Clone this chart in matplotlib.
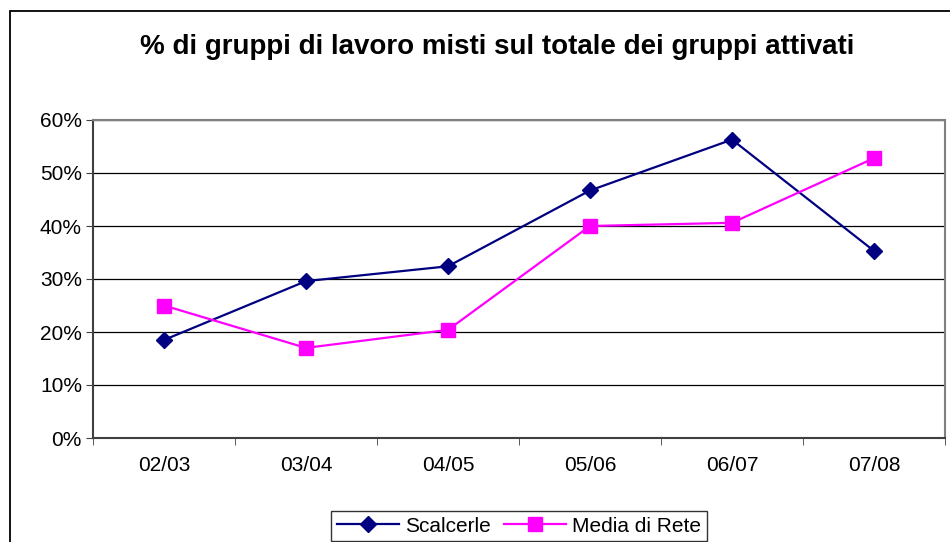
import matplotlib
matplotlib.use("Agg")
import matplotlib.pyplot as plt
from matplotlib.patches import Rectangle
from matplotlib.ticker import PercentFormatter, FixedLocator

plt.rcParams['font.family'] = ['Liberation Sans', 'DejaVu Sans']

# data
years = ['02/03', '03/04', '04/05', '05/06', '06/07', '07/08']
scalcerle = [18.5, 29.6, 32.4, 46.7, 56.3, 35.3]
media_rete = [25.0, 17.0, 20.4, 40.0, 40.6, 52.8]

fig = plt.figure(figsize=(9.5, 5.42), dpi=100)

# outer chart frame (excel style, cut off at right and bottom)
fig.patches.append(Rectangle((10/950, -0.05), 1.0, 1 - 11/542 + 0.05,
                             transform=fig.transFigure, fill=False,
                             edgecolor='black', linewidth=1.3))

ax = fig.add_axes([93/950, (542-438)/542, (945-93)/950, (438-120)/542])

x = range(len(years))
ax.plot(x, scalcerle, color='#000080', marker='D', markersize=8.5,
        linewidth=1.6, label='Scalcerle', zorder=3)
ax.plot(x, media_rete, color='#FF00FF', marker='s', markersize=10,
        linewidth=1.6, label='Media di Rete', zorder=3)

ax.set_xlim(-0.5, len(years) - 0.5)
ax.set_ylim(0, 60)
ax.set_yticks(range(0, 61, 10))
ax.yaxis.set_major_formatter(PercentFormatter(decimals=0))
ax.set_xticks(list(x))
ax.set_xticklabels(years)
ax.xaxis.set_minor_locator(FixedLocator([i - 0.5 for i in range(len(years) + 1)]))
ax.tick_params(axis='x', which='major', length=0, pad=13, labelsize=15)
ax.tick_params(axis='x', which='minor', length=5, direction='out', color='#404040')
ax.tick_params(axis='y', length=5, direction='out', labelsize=15, pad=3, color='#404040')

ax.grid(axis='y', color='black', linewidth=0.9)
ax.set_axisbelow(True)
for s in ['top', 'right']:
    ax.spines[s].set_color('#808080')
    ax.spines[s].set_linewidth(1.5)
for s in ['left', 'bottom']:
    ax.spines[s].set_color('#404040')
    ax.spines[s].set_linewidth(1.5)

fig.text(497/950, 1 - 47/542, '% di gruppi di lavoro misti sul totale dei gruppi attivati',
         ha='center', va='center', fontsize=20, fontweight='bold')

leg = fig.legend(loc='center', bbox_to_anchor=(519/950, 1 - 526/542), ncol=2,
                 frameon=True, fancybox=False, fontsize=15, handlelength=3,
                 columnspacing=0.6, handletextpad=0.3, borderpad=0.25)
leg.get_frame().set_edgecolor('black')
leg.get_frame().set_linewidth(1.0)

fig.savefig('out.png', dpi=100)
